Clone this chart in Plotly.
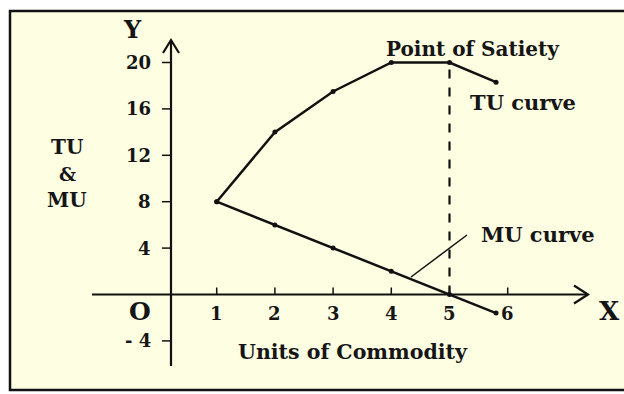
import plotly.graph_objects as go

# ---- data ----
units = [1, 2, 3, 4, 5, 5.8]
tu_values = [8, 14, 17.5, 20, 20, 18.3]
mu_values = [8, 6, 4, 2, 0, -1.6]
x_ticks = [1, 2, 3, 4, 5, 6]
x_tick_labels = ["1", "2", "3", "4", "5", "6"]
y_ticks = [20, 16, 12, 8, 4, -4]
y_tick_labels = ["20", "16", "12", "8", "4", "- 4"]

W, H = 624, 394
X0PIX, XSCALE = 158.5, 58.2
Y0PIX, YSCALE = 294.5, 11.6
xr = [-X0PIX / XSCALE, (W - X0PIX) / XSCALE]
yr = [-(H - Y0PIX) / YSCALE, Y0PIX / YSCALE]

def px_x(p):
    return (p - X0PIX) / XSCALE

def px_y(p):
    return (Y0PIX - p) / YSCALE

FONT = "DejaVu Serif"
TXT = "#151515"
BG = "#fefee2"

fig = go.Figure()

fig.add_trace(go.Scatter(x=units, y=tu_values, mode="lines+markers",
                         line=dict(color="#111", width=2.5),
                         marker=dict(color="#111", size=5), showlegend=False,
                         hoverinfo="skip"))
fig.add_trace(go.Scatter(x=units, y=mu_values, mode="lines+markers",
                         line=dict(color="#111", width=2.5),
                         marker=dict(color="#111", size=5), showlegend=False,
                         hoverinfo="skip"))

shapes = []
# frame
shapes.append(dict(type="rect", xref="paper", yref="paper",
                   x0=10 / W, x1=1.02, y0=1 - 390 / H, y1=1 - 11 / H,
                   line=dict(color="#111", width=2.5), fillcolor=BG, layer="below"))
# x axis
yax_x = px_x(171)
x_start, x_tip = px_x(92), px_x(588)
shapes.append(dict(type="line", x0=x_start, x1=x_tip, y0=0, y1=0,
                   line=dict(color="#111", width=2.2)))
shapes.append(dict(type="path",
                   path=f"M {x_tip - 14 / XSCALE},{9 / YSCALE} L {x_tip},0 L {x_tip - 14 / XSCALE},{-9 / YSCALE}",
                   line=dict(color="#111", width=2.2)))
# y axis
y_bottom, y_tip = px_y(366), px_y(40)
shapes.append(dict(type="line", x0=yax_x, x1=yax_x, y0=y_bottom, y1=y_tip,
                   line=dict(color="#111", width=2.2)))
shapes.append(dict(type="path",
                   path=f"M {yax_x - 8 / XSCALE},{y_tip - 13 / YSCALE} L {yax_x},{y_tip} L {yax_x + 8 / XSCALE},{y_tip - 13 / YSCALE}",
                   line=dict(color="#111", width=2.2)))
# y ticks
for v in y_ticks:
    shapes.append(dict(type="line", x0=yax_x - 9 / XSCALE, x1=yax_x, y0=v, y1=v,
                       line=dict(color="#111", width=1.5)))
# x ticks
for v in x_ticks:
    shapes.append(dict(type="line", x0=v, x1=v, y0=0, y1=7 / YSCALE,
                       line=dict(color="#111", width=1.5)))
# dashed satiety line
shapes.append(dict(type="line", x0=units[4], x1=units[4], y0=0, y1=tu_values[4],
                   line=dict(color="#111", width=2.2, dash="dash")))
# MU pointer
shapes.append(dict(type="line", x0=px_x(411), y0=px_y(277), x1=px_x(467), y1=px_y(235),
                   line=dict(color="#111", width=1.5)))

ann = []
def text(s, x, y, size=20, xanchor="center"):
    ann.append(dict(text=s, x=x, y=y, showarrow=False, xanchor=xanchor, yanchor="middle",
                    font=dict(family=FONT, size=size, color=TXT)))

for v, lab in zip(y_ticks, y_tick_labels):
    text(f"<b>{lab}</b>", px_x(153), v, size=18, xanchor="right")
for v, lab in zip(x_ticks, x_tick_labels):
    text(f"<b>{lab}</b>", v, px_y(313), size=18)
text("<b>O</b>", px_x(140), px_y(311), size=25)
text("<b>Y</b>", px_x(132), px_y(29), size=24)
text("<b>X</b>", px_x(609), px_y(311), size=26)
text("<b>TU</b>", px_x(67), px_y(147), size=20)
text("<b>&amp;</b>", px_x(67), px_y(174), size=19)
text("<b>MU</b>", px_x(67), px_y(200), size=20)
text("<b>Point of Satiety</b>", px_x(473), px_y(49), size=20)
text("<b>TU curve</b>", px_x(523), px_y(102), size=21)
text("<b>MU curve</b>", px_x(538), px_y(234), size=21)
text("<b>Units of Commodity</b>", px_x(353), px_y(352), size=20.5)

fig.update_layout(
    width=W, height=H, margin=dict(l=0, r=0, t=0, b=0),
    paper_bgcolor="white", plot_bgcolor="rgba(0,0,0,0)",
    xaxis=dict(range=xr, visible=False, fixedrange=True),
    yaxis=dict(range=yr, visible=False, fixedrange=True),
    shapes=shapes, annotations=ann,
)

fig.write_html("out.html", config={"displayModeBar": False},
               post_script="document.body.style.margin='0';document.body.style.overflow='hidden';")
